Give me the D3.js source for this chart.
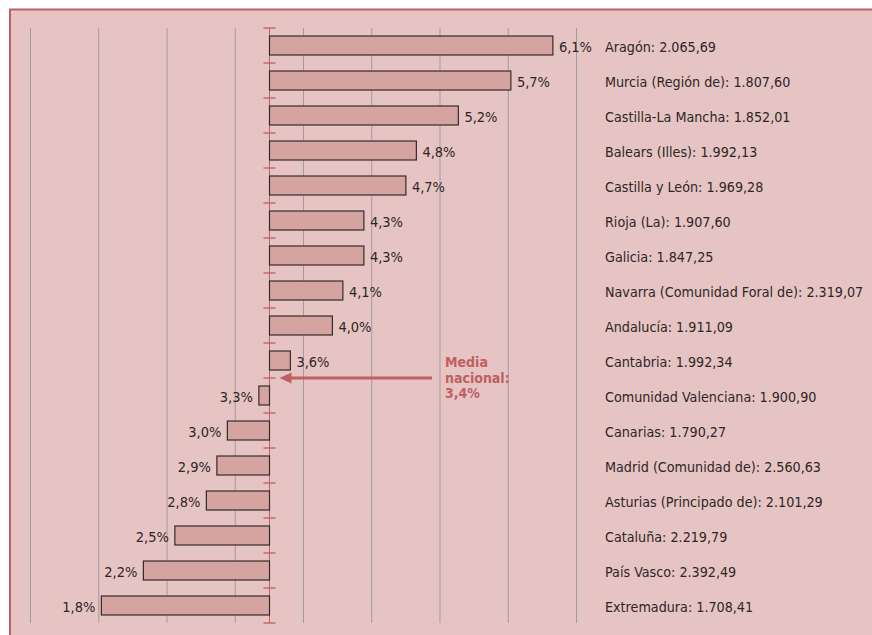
<!DOCTYPE html>
<html>
<head>
<meta charset="utf-8">
<script src="https://cdn.jsdelivr.net/npm/d3@7.9.0/dist/d3.min.js"></script>
<style>
  html, body { margin: 0; padding: 0; background: #fff; }
  svg { display: block; }
  text { font-family: "Liberation Sans Narrow", "DejaVu Sans Condensed", "Roboto Condensed", "Open Sans", sans-serif; }
</style>
</head>
<body>
<svg width="872" height="635"></svg>
<script>
// regions, % change and amount per region
const regions = ["Aragón", "Murcia (Región de)", "Castilla-La Mancha", "Balears (Illes)", "Castilla y León",
  "Rioja (La)", "Galicia", "Navarra (Comunidad Foral de)", "Andalucía", "Cantabria", "Comunidad Valenciana",
  "Canarias", "Madrid (Comunidad de)", "Asturias (Principado de)", "Cataluña", "País Vasco", "Extremadura"];
const pcts = [6.1, 5.7, 5.2, 4.8, 4.7, 4.3, 4.3, 4.1, 4.0, 3.6, 3.3, 3.0, 2.9, 2.8, 2.5, 2.2, 1.8];
const amounts = ["2.065,69", "1.807,60", "1.852,01", "1.992,13", "1.969,28", "1.907,60", "1.847,25", "2.319,07",
  "1.911,09", "1.992,34", "1.900,90", "1.790,27", "2.560,63", "2.101,29", "2.219,79", "2.392,49", "1.708,41"];
const media = 3.4;
const gridStart = 1.125, gridStep = 0.65, gridCount = 9;

const fmt = v => d3.format(".1f")(v).replace(".", ",") + "%";
const red = "#bf5f63";

const svg = d3.select("svg");

// background frame
svg.append("rect").attr("x", 10).attr("y", 9.5).attr("width", 880).attr("height", 640)
  .attr("fill", "#e6c4c3").attr("stroke", red).attr("stroke-width", 2);

const x = d3.scaleLinear().domain([gridStart, gridStart + gridStep * (gridCount - 1)]).range([30.5, 576.5]);
const y = d3.scaleBand().domain(regions).range([28, 623]);
const barH = 19;

// gridlines
svg.append("g").selectAll("line").data(d3.range(gridCount).map(i => gridStart + gridStep * i))
  .join("line")
  .attr("x1", d => x(d)).attr("x2", d => x(d))
  .attr("y1", 28).attr("y2", 623)
  .attr("stroke", "#a39b9b").attr("stroke-width", 1);

// axis at the national average
const x0 = Math.round(x(media)) + 0.5;
svg.append("line").attr("x1", x0).attr("x2", x0).attr("y1", 28).attr("y2", 623)
  .attr("stroke", red).attr("stroke-width", 1);
svg.append("g").selectAll("line").data(regions.map(r => y(r)).concat([y.range()[1]]))
  .join("line")
  .attr("x1", x0 - 6).attr("x2", x0 + 6)
  .attr("y1", d => d).attr("y2", d => d)
  .attr("stroke", red).attr("stroke-width", 1.3);

// bars
svg.append("g").selectAll("rect").data(pcts)
  .join("rect")
  .attr("x", d => Math.min(x(d), x0))
  .attr("y", (d, i) => y(regions[i]) + (y.bandwidth() - barH) / 2)
  .attr("width", d => Math.abs(x(d) - x0))
  .attr("height", barH)
  .attr("fill", "#d5a4a1").attr("stroke", "#352b2b").attr("stroke-width", 1.2);

// value labels
svg.append("g").selectAll("text").data(pcts)
  .join("text")
  .attr("x", d => d >= media ? x(d) + 6 : x(d) - 6)
  .attr("y", (d, i) => y(regions[i]) + y.bandwidth() / 2 + 1)
  .attr("text-anchor", d => d >= media ? "start" : "end")
  .attr("dominant-baseline", "central")
  .attr("font-size", 14.5).attr("fill", "#2e2626")
  .text(d => fmt(d));

// region labels
svg.append("g").selectAll("text").data(regions)
  .join("text")
  .attr("x", 605)
  .attr("y", d => y(d) + y.bandwidth() / 2 + 1)
  .attr("dominant-baseline", "central")
  .attr("font-size", 14.2).attr("fill", "#2e2626")
  .text((d, i) => `${d}: ${amounts[i]}`);

// arrow to the national average
const ay = y(regions[10]);
svg.append("line").attr("x1", 432).attr("x2", x0 + 18).attr("y1", ay).attr("y2", ay)
  .attr("stroke", red).attr("stroke-width", 3);
svg.append("path")
  .attr("d", `M${x0 + 10},${ay} L${x0 + 22},${ay - 5.5} L${x0 + 22},${ay + 5.5} Z`)
  .attr("fill", red);

const note = svg.append("text").attr("x", 445).attr("y", 367)
  .attr("font-size", 14).attr("font-weight", "bold").attr("fill", red);
["Media", "nacional:", fmt(media)].forEach((t, i) => {
  note.append("tspan").attr("x", 445).attr("dy", i === 0 ? 0 : 15.5).text(t);
});
</script>
</body>
</html>
